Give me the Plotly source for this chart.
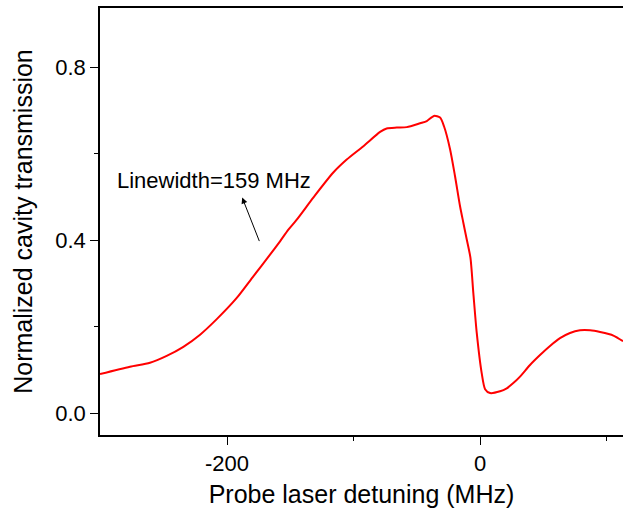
import plotly.graph_objects as go

detuning = [-300.4, -276.7, -260.9, -247.7, -234.5, -221.3, -208.1, -192.3, -179.2, -166, -158.1,
            -151.5, -144.9, -131.8, -116, -105.4, -92.2, -79, -73.8, -65.8, -57.9, -47.4, -42.1,
            -36.4, -31.6, -28.5, -23.7, -19.8, -15.8, -13.2, -10.5, -7.6, -5.3, -2.6, 1.3, 4, 7.9,
            15.8, 21.1, 26.3, 31.6, 39.5, 47.4, 55.3, 63.2, 71.1, 79, 87, 94.9, 105.4, 113]
transmission = [0.091, 0.108, 0.117, 0.133, 0.154, 0.182, 0.218, 0.267, 0.317, 0.367, 0.398,
                0.425, 0.448, 0.499, 0.557, 0.587, 0.618, 0.651, 0.659, 0.661, 0.662, 0.671, 0.676,
                0.688, 0.684, 0.664, 0.611, 0.549, 0.479, 0.441, 0.402, 0.36, 0.278, 0.186, 0.093,
                0.056, 0.047, 0.051, 0.058, 0.070, 0.085, 0.112, 0.135, 0.156, 0.174, 0.186, 0.192,
                0.192, 0.188, 0.180, 0.167]

x_ticks = [-200, 0, 200]
x_tick_text = ["-200", "0", "200"]
y_ticks = [0.0, 0.4, 0.8]
y_tick_text = ["0.0", "0.4", "0.8"]

annot_text = "Linewidth=159 MHz"

fig = go.Figure()
fig.add_trace(go.Scatter(x=detuning, y=transmission, mode="lines",
                         line=dict(color="#ff0000", width=2, shape="spline", smoothing=0.7),
                         showlegend=False))

font = "Liberation Sans, Arial, sans-serif"

fig.add_annotation(x=-188, y=0.499, ax=-174, ay=0.395, xref="x", yref="y", axref="x", ayref="y",
                   text="", showarrow=True, arrowhead=2, arrowsize=1.2, arrowwidth=1, arrowcolor="black")
fig.add_annotation(x=-210.3, y=0.539, xref="x", yref="y", text=annot_text, showarrow=False,
                   font=dict(family=font, size=22, color="black"))

fig.update_layout(
    width=623, height=510,
    margin=dict(l=100, r=0, t=8, b=75),
    plot_bgcolor="white", paper_bgcolor="white",
    font=dict(family=font, color="black"),
    xaxis=dict(range=[-300.4, 113], tickvals=x_ticks, ticktext=x_tick_text, ticks="outside", ticklen=8,
               tickwidth=1, tickcolor="black", showline=True, linecolor="black", linewidth=1.5, mirror=True,
               showgrid=False, zeroline=False, tickfont=dict(size=22, family=font),
               minor=dict(tickvals=[-100, 100], ticks="outside", ticklen=4, tickcolor="black"),
               title=dict(text="Probe laser detuning (MHz)", font=dict(size=25, family=font), standoff=10)),
    yaxis=dict(range=[-0.05, 0.9375], tickvals=y_ticks, ticktext=y_tick_text, ticks="outside", ticklen=8,
               tickwidth=1, tickcolor="black", showline=True, linecolor="black", linewidth=1.5,
               mirror=False, showgrid=False, zeroline=False, tickfont=dict(size=22, family=font),
               minor=dict(tickvals=[0.2, 0.6], ticks="outside", ticklen=4, tickcolor="black"),
               title=dict(text="Normalized cavity transmission", font=dict(size=25, family=font), standoff=16)),
)

fig.write_html("out.html")
